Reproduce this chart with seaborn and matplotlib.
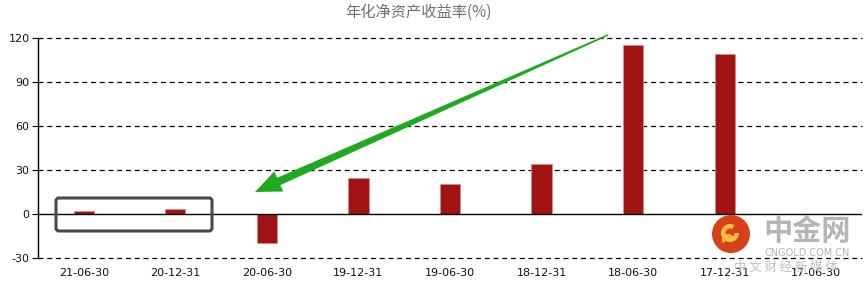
import matplotlib
matplotlib.use("Agg")
import math
import matplotlib.pyplot as plt
import matplotlib.transforms as mtransforms
import seaborn as sns
import pandas as pd
from matplotlib.patches import Polygon, FancyBboxPatch, Circle, Wedge

# ---- data ----
periods = ["21-06-30", "20-12-31", "20-06-30", "19-12-31", "19-06-30",
           "18-12-31", "18-06-30", "17-12-31", "17-06-30"]
roe = [2.0, 3.2, -19.5, 24.3, 20.5, 34.1, 115.2, 108.9, 0.0]
yticks = [-30, 0, 30, 60, 90, 120]
title = "年化净资产收益率(%)"

df = pd.DataFrame({"period": periods, "roe": roe})

sns.set_theme(style="white")
plt.rcParams["font.family"] = ["DejaVu Sans", "Noto Sans CJK SC"]

W, H = 868, 285
fig = plt.figure(figsize=(W / 100, H / 100), dpi=100)
ax = fig.add_axes([38 / W, 1 - 258 / H, 824 / W, 220 / H])

sns.barplot(data=df, x="period", y="roe", order=periods, color="#a11212",
            saturation=1, width=0.22, ax=ax, edgecolor="#d88a8a", linewidth=0.6)

ax.set_ylim(-30, 120)
ax.set_xlim(-0.5, len(periods) - 0.5)
ax.set_yticks(yticks)
ax.set_yticklabels([str(t) for t in yticks], fontsize=8, color="#111")
ax.set_xticks(range(len(periods)))
ax.set_xticklabels(periods, fontsize=8, color="#111")
ax.set_xlabel("")
ax.set_ylabel("")
for t in yticks:
    if t != 0:
        ax.axhline(t, color="#000", linestyle=(0, (4, 3)), linewidth=0.9,
                   zorder=0, clip_on=False)
ax.axhline(0, color="#000", linewidth=1.0, zorder=3)
for s in ["top", "right", "bottom"]:
    ax.spines[s].set_visible(False)
ax.spines["left"].set_color("#000")
ax.spines["left"].set_linewidth(1.0)
ax.tick_params(axis="y", length=4, width=0.8, color="#000", left=True, pad=2)
ax.tick_params(axis="x", length=0, pad=7)

fig.text(418 / W, 1 - 12 / H, title, ha="center", va="center", fontsize=11,
         color="#707070", family=["Noto Sans CJK SC", "DejaVu Sans"])

# pixel transform (top-left origin) for annotation overlays
pix = mtransforms.Affine2D().scale(1 / 100, -1 / 100).translate(0, H / 100) + fig.dpi_scale_trans

# green arrow (annotation)
tx, ty = 608, 35
hx, hy = 255, 192
dx, dy = hx - tx, hy - ty
L = math.hypot(dx, dy)
ux, uy = dx / L, dy / L
nx, ny = -uy, ux
hl, hw, sw, tw = 26, 11, 4.0, 0.8
bx, by = hx - ux * hl, hy - uy * hl
pts = [
    (tx + nx * tw, ty + ny * tw),
    (bx + nx * sw, by + ny * sw),
    (bx + nx * hw, by + ny * hw),
    (hx, hy),
    (bx - nx * hw, by - ny * hw),
    (bx - nx * sw, by - ny * sw),
    (tx - nx * tw, ty - ny * tw),
]
fig.patches.append(Polygon(pts, closed=True, transform=pix,
                           facecolor="#1eaa1e", edgecolor="none", zorder=10))

# rounded highlight box
x0, y0, x1, y1 = 56, 198, 212, 231
fig.patches.append(FancyBboxPatch((x0, y0), x1 - x0, y1 - y0,
                                  boxstyle="round,pad=0,rounding_size=3",
                                  transform=pix, facecolor="none",
                                  edgecolor="#4a4a4a", linewidth=2.2, zorder=10))

# watermark
cx, cy, r = 731, 234, 19
fig.patches.append(Circle((cx, cy), r, transform=pix,
                          facecolor="#d8401c", edgecolor="none", zorder=11))
fig.patches.append(Wedge((cx - 1, cy - 1), 9, 0, 300, width=4.5,
                         transform=pix, facecolor="#f6c040",
                         edgecolor="none", zorder=12))
fig.patches.append(Wedge((cx - 3, cy + 6), 6, 150, 330, width=3,
                         transform=pix, facecolor="#f6c040",
                         edgecolor="none", zorder=12))
fig.text(807 / W, 1 - 231 / H, "中金网", ha="center", va="center", fontsize=21,
         fontweight="bold", color="#b5b5b5", family=["Noto Sans CJK SC"], zorder=12)
fig.text(807 / W, 1 - 253 / H, "CNGOLD.COM.CN", ha="center", va="center", fontsize=7,
         color="#b5b5b5", zorder=12)
fig.text(786 / W, 1 - 267 / H, "中 文 财 经 新 媒 体", ha="center", va="center", fontsize=9,
         color="#c0c0c0", family=["Noto Sans CJK SC"], zorder=12)

fig.savefig("out.png", dpi=100)
